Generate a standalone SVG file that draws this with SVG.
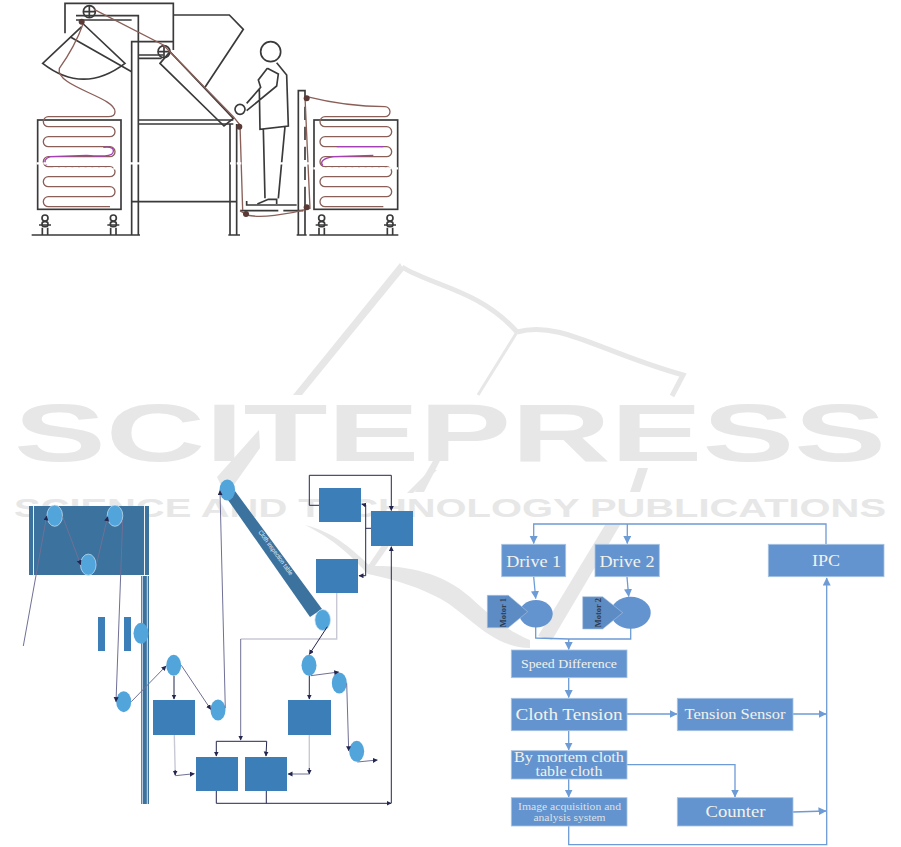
<svg xmlns="http://www.w3.org/2000/svg" xmlns:xlink="http://www.w3.org/1999/xlink" width="901" height="847" viewBox="0 0 901 847">
<style>
.wm{fill:#e6e7e6;font-family:"Liberation Sans",Arial,sans-serif;font-weight:700}
.wms{fill:none;stroke:#e6e7e6;stroke-linecap:butt}
.k{fill:none;stroke:#3a3a3a;stroke-width:5}
.b{fill:none;stroke:#8a5f58;stroke-width:4}
.blk{fill:#3c7fb8}
.el{fill:#52a5db}
.elw{fill:#52a5db;stroke:#cfe3f2;stroke-width:.7}
.n{fill:none;stroke:#23264f;stroke-width:1}
.l{fill:none;stroke:#6f7096;stroke-width:1}
.p{fill:none;stroke:#c9c9d6;stroke-width:1.4}
.c{fill:none;stroke:#6d9bd6;stroke-width:1.3}
.box{fill:#6394cf;stroke:#a9c3e3;stroke-width:.8}
.mot{fill:#5d8cc4;stroke:#a9c3e3;stroke-width:.6}
.t{fill:#f4f1ea;font-family:"Liberation Serif","Times New Roman",serif;text-anchor:middle}
</style>
<defs>
<marker id="an" markerUnits="userSpaceOnUse" markerWidth="6" markerHeight="6" refX="4.5" refY="2.5" orient="auto"><path d="M0 0L5 2.5L0 5z" fill="#23264f"/></marker>
<marker id="ab" markerUnits="userSpaceOnUse" markerWidth="9" markerHeight="9" refX="7.5" refY="4" orient="auto"><path d="M0 0L8 4L0 8z" fill="#6d9bd6"/></marker>
<g id="leg"><rect x="-9" y="0" width="18" height="18" rx="9" fill="none" stroke="#3a3a3a" stroke-width="5"/><rect x="-9" y="20" width="18" height="15" rx="7" fill="none" stroke="#3a3a3a" stroke-width="5"/><path d="M-18 30H18M-8 38V60M8 38V60" fill="none" stroke="#3a3a3a" stroke-width="5"/></g>
</defs>

<g id="watermark">
<path d="M293 395L400 263L404 270L302 395z" fill="#e6e7e6"/>
<path d="M402 267C430 285 480 290 517 332" class="wms" stroke-width="5"/>
<path d="M517 332L478 395" class="wms" stroke-width="3"/>
<path d="M517 332C560 320 600 352 683 375L672 396" class="wms" stroke-width="5"/>
<text class="wm" x="14" y="461" font-size="82" textLength="872" lengthAdjust="spacingAndGlyphs">SCITEPRESS</text>
<text class="wm" x="14" y="517" font-size="25" textLength="872" lengthAdjust="spacingAndGlyphs">SCIENCE AND TECHNOLOGY PUBLICATIONS</text>
<path d="M259 430L217 477L226 496L260 448z" fill="#e6e7e6"/>
<path d="M441 447L447 447L424 492L415 492z" fill="#e6e7e6"/>
<path d="M638 468L648 468L640 492L630 492z" fill="#e6e7e6"/>
<path d="M430 470L437 470L413 493H407z" fill="#e6e7e6"/>
<path d="M397 523L405 523L372 570L368 566z" fill="#e6e7e6"/>
<path d="M305 525C335 532 355 552 370 566C400 565 440 570 470 597C490 615 505 630 530 640L530 648C490 648 465 610 437 597C410 583 385 578 368 574C350 555 335 540 305 525z" fill="#e6e7e6"/>
<path d="M605 525L620 525L552 640L538 636z" fill="#e6e7e6"/>
</g>

<g id="machine-sketch" transform="translate(20 0) scale(.33333)">
<path class="k" d="M135 100V10H460V150M168 47H355V705M335 705V125H460M168 60H335M355 165H430M355 175H425"/>
<path class="k" d="M355 360H640M355 372H640M335 605H652M630 372V705M650 372V705"/>
<path class="k" d="M185 80L68 190Q190 285 315 190L190 72M150 110L335 215"/>
<path class="k" d="M460 45H628L670 88L555 262M420 190L450 155L640 355L612 378z"/>
<circle class="k" cx="208" cy="35" r="18"/><path class="k" d="M190 35H226M208 17V53"/>
<circle class="k" cx="432" cy="155" r="18"/><path class="k" d="M414 155H450M432 137V173"/>
<circle class="k" cx="752" cy="155" r="30"/>
<path class="k" d="M742 205L715 240L722 262L680 310M680 332L770 258L775 222L742 205M770 188L800 225L805 378L720 388L718 268M730 388L735 595M795 380L775 595M712 612L745 598H770V612"/>
<circle class="k" cx="660" cy="328" r="15"/>
<path class="k" d="M680 603V615H830M660 632H775M790 632H850M835 705V272H855V300M855 320V360M855 380V420M855 440V480M855 500V540M855 560V705"/>
<rect class="k" x="53" y="360" width="250" height="268"/>
<rect class="k" x="882" y="360" width="251" height="268"/>
<path class="k" d="M35 705H360M625 705H660M830 705H860M868 705H1135"/>
<use xlink:href="#leg" href="#leg" x="75" y="645"/><use xlink:href="#leg" href="#leg" x="280" y="645"/><use xlink:href="#leg" href="#leg" x="905" y="645"/><use xlink:href="#leg" href="#leg" x="1110" y="645"/>
<path class="b" d="M190 70Q165 140 118 205C105 260 285 290 285 335Q285 350 265 350H85a15 15 0 0 0 0 30H270a15 15 0 0 1 0 30H85a15 15 0 0 0 0 30H270a15 15 0 0 1 0 30H85a15 15 0 0 0 0 30H270a15 15 0 0 1 0 30H85a15 15 0 0 0 0 30H270a15 15 0 0 1 0 30H85a15 15 0 0 0 0 30H270"/>
<path class="b" d="M860 290C960 315 1040 320 1095 320a15 15 0 0 1 0 30H915a15 15 0 0 0 0 30H1100a15 15 0 0 1 0 30H915a15 15 0 0 0 0 30H1100a15 15 0 0 1 0 30H915a15 15 0 0 0 0 30H1100a15 15 0 0 1 0 30H915a15 15 0 0 0 0 30H1100a15 15 0 0 1 0 30H915a15 15 0 0 0 0 30H1090"/>
<path class="b" d="M222 28L430 135L640 350L660 375L668 630M855 290L870 625C800 645 720 655 680 645L660 632"/>
<path d="M250 442Q288 438 278 460Q270 472 200 466L90 470Q66 480 80 494" fill="none" stroke="#a43fb5" stroke-width="4"/>
<path d="M950 440H1090M1060 466L940 470Q895 478 908 496" fill="none" stroke="#a43fb5" stroke-width="4"/>
<g fill="#5a3a36"><circle cx="185" cy="65" r="9"/><circle cx="658" cy="380" r="9"/><circle cx="860" cy="295" r="9"/><circle cx="860" cy="622" r="9"/><circle cx="678" cy="642" r="9"/></g>
<path d="M50 490H300M330 490H360M630 490H680M780 490H810M840 490H870M880 505H1135M100 505H290M430 440H470" fill="none" stroke="#fff" stroke-width="7" stroke-dasharray="14 6"/>
</g>

<g id="left-flow">
<g id="frame-top"><rect x="29" y="506" width="120" height="69" fill="#3b729e"/><path d="M33.5 506V575M144.5 506V575" stroke="#fff" stroke-width=".9"/></g>
<g id="frame-post"><rect x="141" y="576" width="8" height="228" fill="#3b729e"/><path d="M142.3 576V804M147.3 576V804" stroke="#fff" stroke-width=".8"/></g>
<g id="inspection-table"><path d="M235 491L228 500L310 617L322 609z" fill="#3b729e"/>
<text x="0" y="0" transform="translate(274 554) rotate(53.7)" fill="#e8f0f6" font-family="Liberation Sans,sans-serif" font-size="6.5" text-anchor="middle" textLength="54" lengthAdjust="spacingAndGlyphs">Cloth inspection table</text></g>
<g id="bar-1"><rect class="blk" x="98" y="617" width="7" height="34"/></g>
<g id="bar-2"><rect class="blk" x="124" y="617" width="7" height="34"/></g>
<g id="box-a"><rect class="blk" x="153" y="700" width="42" height="35"/></g>
<g id="box-b"><rect class="blk" x="196" y="757" width="42" height="34"/></g>
<g id="box-c"><rect class="blk" x="245" y="757" width="42" height="34"/></g>
<g id="box-d"><rect class="blk" x="288" y="700" width="43" height="35"/></g>
<g id="box-e"><rect class="blk" x="319" y="488" width="42" height="34"/></g>
<g id="box-f"><rect class="blk" x="371" y="511" width="42" height="35"/></g>
<g id="box-g"><rect class="blk" x="316" y="559" width="42" height="34"/></g>
<g id="roller-1"><ellipse class="elw" cx="54.7" cy="515.7" rx="7.8" ry="10.6"/></g>
<g id="roller-2"><ellipse class="elw" cx="115" cy="515.7" rx="7.8" ry="10.6"/></g>
<g id="roller-3"><ellipse class="elw" cx="88.3" cy="564.7" rx="7.8" ry="10.6"/></g>
<g id="roller-4"><ellipse class="el" cx="141" cy="633.3" rx="7.5" ry="10.5"/></g>
<g id="roller-5"><ellipse class="el" cx="173.7" cy="665.3" rx="7.5" ry="10.5"/></g>
<g id="roller-6"><ellipse class="el" cx="123.7" cy="701.7" rx="7.5" ry="10.5"/></g>
<g id="roller-7"><ellipse class="el" cx="218" cy="710" rx="7.5" ry="10.5"/></g>
<g id="roller-8"><ellipse class="el" cx="227.3" cy="490" rx="7.8" ry="10.5"/></g>
<g id="roller-9"><ellipse class="elw" cx="322.7" cy="620" rx="7.8" ry="10.5"/></g>
<g id="roller-10"><ellipse class="el" cx="309" cy="665.3" rx="7.5" ry="10.5"/></g>
<g id="roller-11"><ellipse class="el" cx="339.3" cy="683" rx="7.5" ry="10.5"/></g>
<g id="roller-12"><ellipse class="el" cx="356.7" cy="751.3" rx="7.5" ry="10.5"/></g>
</g>

<g id="left-connectors">
<path class="l" marker-end="url(#an)" d="M23.3 646L46.7 516"/>
<path class="l" marker-end="url(#an)" d="M62.7 516.7L80.7 564.7"/>
<path class="l" marker-end="url(#an)" d="M96.7 563.3L107.7 516.7"/>
<path class="l" marker-end="url(#an)" d="M122.7 520L116 701.7"/>
<path class="l" marker-end="url(#an)" d="M131.3 701.7L166 666"/>
<path class="l" marker-end="url(#an)" d="M181.3 665.3L210.7 709.3"/>
<path class="n" marker-end="url(#an)" d="M174 676V699"/>
<path class="p" d="M174.3 735L175.3 775.7"/>
<path class="l" marker-end="url(#an)" d="M175.3 775.7L194.3 773.7"/>
<path class="n" marker-end="url(#an)" d="M175.2 770V775"/>
<path class="l" marker-end="url(#an)" d="M225.3 708.3L220 490.7"/>
<path class="p" d="M336.7 593V639H240.7"/>
<path class="l" marker-end="url(#an)" d="M240.7 639V740"/>
<path class="n" marker-end="url(#an)" d="M216.3 741.3V756"/>
<path class="n" marker-end="url(#an)" d="M216.3 741.3H266.7L266 756"/>
<path class="n" marker-end="url(#an)" d="M327.3 626.7L309.3 654.3"/>
<path class="n" marker-end="url(#an)" d="M309.3 675.7V699"/>
<path class="l" marker-end="url(#an)" d="M310.7 675.7L338.7 672"/>
<path class="l" marker-end="url(#an)" d="M346.7 683.3L348.7 750.7"/>
<path class="l" marker-end="url(#an)" d="M357.3 762L377.3 760"/>
<path class="p" d="M309.3 735V774"/>
<path class="n" marker-end="url(#an)" d="M309.3 768V774"/>
<path class="l" marker-end="url(#an)" d="M309.3 774H288"/>
<path class="n" marker-end="url(#an)" d="M216.3 791V803.3H391"/>
<path class="n" d="M266.3 791V803.3"/>
<path class="n" marker-end="url(#an)" d="M391.3 803.3V546.7"/>
<path class="n" marker-end="url(#an)" d="M319 505.3H309.3V475.3H391.3V510.5"/>
<path class="n" d="M371 528.3H365.7"/>
<path class="n" marker-end="url(#an)" d="M365.7 505L361.7 504"/>
<path class="n" marker-end="url(#an)" d="M365.7 505V575.7H359"/>
</g>

<g id="right-connectors">
<path class="c" marker-end="url(#ab)" d="M826 544V524H533.7V543.5"/>
<path class="c" marker-end="url(#ab)" d="M627.3 524V543.5"/>
<path class="c" marker-end="url(#ab)" d="M533.7 577L535.7 598.5"/>
<path class="c" marker-end="url(#ab)" d="M627 577L628.7 596.5"/>
<path class="c" d="M535.7 627V638L568.7 639M630.7 628V639H568.7"/>
<path class="c" marker-end="url(#ab)" d="M568.7 639V649.5"/>
<path class="c" marker-end="url(#ab)" d="M568.7 677.7V697.5"/>
<path class="c" marker-end="url(#ab)" d="M568.7 730.7V750"/>
<path class="c" marker-end="url(#ab)" d="M568.7 779V797"/>
<path class="c" marker-end="url(#ab)" d="M627 714H677"/>
<path class="c" marker-end="url(#ab)" d="M793 714H826"/>
<path class="c" marker-end="url(#ab)" d="M627 764.7H735V797"/>
<path class="c" marker-end="url(#ab)" d="M793 812L826 811"/>
<path class="c" marker-end="url(#ab)" d="M568.7 826V844.7H826.7V578"/>
</g>

<g id="drive-1"><rect class="box" x="501.7" y="544.3" width="64" height="32.4"/><text class="t" x="533.7" y="567" font-size="17" textLength="55" lengthAdjust="spacingAndGlyphs">Drive 1</text></g>
<g id="drive-2"><rect class="box" x="595" y="544.3" width="64.3" height="32.4"/><text class="t" x="627" y="567" font-size="17" textLength="55" lengthAdjust="spacingAndGlyphs">Drive 2</text></g>
<g id="ipc"><rect class="box" x="768.3" y="544.3" width="115.7" height="32.4"/><text class="t" x="826" y="565.5" font-size="16" textLength="28" lengthAdjust="spacingAndGlyphs">IPC</text></g>
<g id="motor-1"><ellipse cx="536" cy="613.7" rx="16.7" ry="13.7" fill="#6394cf"/><path class="mot" d="M487.3 595.3H508.3L527.7 611.7L508.3 627.7H487.3z"/><text x="0" y="0" transform="translate(506 612.7) rotate(-90)" fill="#2d3a50" font-family="Liberation Serif,serif" font-size="8.5" font-weight="700" text-anchor="middle">Motor 1</text></g>
<g id="motor-2"><ellipse cx="630.7" cy="612.7" rx="20" ry="16" fill="#6394cf"/><path class="mot" d="M582.7 596.7H602.7L622.7 612.7L602.7 629H582.7z"/><text x="0" y="0" transform="translate(601 612.7) rotate(-90)" fill="#2d3a50" font-family="Liberation Serif,serif" font-size="8.5" font-weight="700" text-anchor="middle">Motor 2</text></g>
<g id="speed-difference"><rect class="box" x="511.3" y="650" width="115.7" height="27.7"/><text class="t" x="569" y="667.5" font-size="12" textLength="96" lengthAdjust="spacingAndGlyphs">Speed Difference</text></g>
<g id="cloth-tension"><rect class="box" x="511.3" y="698.3" width="115.7" height="32.4"/><text class="t" x="569" y="719.5" font-size="16" textLength="107" lengthAdjust="spacingAndGlyphs">Cloth Tension</text></g>
<g id="tension-sensor"><rect class="box" x="677.3" y="698.3" width="115.7" height="32.4"/><text class="t" x="735" y="719" font-size="14" textLength="101" lengthAdjust="spacingAndGlyphs">Tension Sensor</text></g>
<g id="by-mortem"><rect class="box" x="511.3" y="750.7" width="115.7" height="28.3"/><text class="t" x="569" y="761.5" font-size="14" textLength="110" lengthAdjust="spacingAndGlyphs">By mortem cloth</text><text class="t" x="569" y="776" font-size="14" textLength="67" lengthAdjust="spacingAndGlyphs">table cloth</text></g>
<g id="image-acquisition"><rect class="box" x="511.3" y="797.7" width="115.7" height="28.3"/><text class="t" x="569.5" y="809.5" font-size="9.5" fill-opacity=".85" textLength="103" lengthAdjust="spacingAndGlyphs">Image acquisition and</text><text class="t" x="569.5" y="821" font-size="9.5" fill-opacity=".85" textLength="72" lengthAdjust="spacingAndGlyphs">analysis system</text></g>
<g id="counter"><rect class="box" x="677.3" y="797.7" width="115.7" height="28.3"/><text class="t" x="735.5" y="817" font-size="17" textLength="60" lengthAdjust="spacingAndGlyphs">Counter</text></g>
</svg>
